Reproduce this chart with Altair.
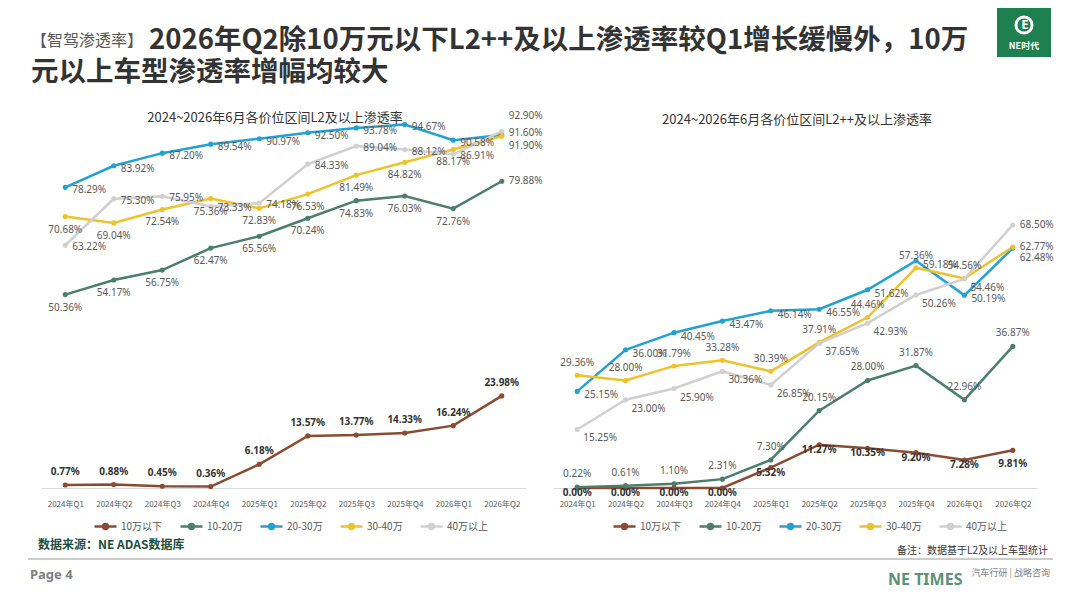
import altair as alt
import pandas as pd

CJK = "Noto Sans CJK SC"
NUM = "Noto Sans"
MUTED = "#595959"
INK = "#333333"

quarters = ["2024年Q1", "2024年Q2", "2024年Q3", "2024年Q4", "2025年Q1",
            "2025年Q2", "2025年Q3", "2025年Q4", "2026年Q1", "2026年Q2"]
series = ["10万以下", "10-20万", "20-30万", "30-40万", "40万以上"]
colors = ["#8C4B30", "#4B7E6B", "#22A2D4", "#EEC22A", "#D0D0D0"]

# L2及以上渗透率 (%)
l2_below10 = [0.77, 0.88, 0.45, 0.36, 6.18, 13.57, 13.77, 14.33, 16.24, 23.98]
l2_10_20 = [50.36, 54.17, 56.75, 62.47, 65.56, 70.24, 74.83, 76.03, 72.76, 79.88]
l2_20_30 = [78.29, 83.92, 87.20, 89.54, 90.97, 92.50, 93.78, 94.67, 90.58, 91.90]
l2_30_40 = [70.68, 69.04, 72.54, 75.36, 72.83, 76.53, 81.49, 84.82, 88.17, 91.60]
l2_above40 = [63.22, 75.30, 75.95, 73.33, 74.18, 84.33, 89.04, 88.12, 86.91, 92.90]

# L2++及以上渗透率 (%)
l2pp_below10 = [0.00, 0.00, 0.00, 0.00, 5.32, 11.27, 10.35, 9.20, 7.28, 9.81]
l2pp_10_20 = [0.22, 0.61, 1.10, 2.31, 7.30, 20.15, 28.00, 31.87, 22.96, 36.87]
l2pp_20_30 = [25.15, 36.00, 40.45, 43.47, 46.14, 46.55, 51.62, 59.18, 50.19, 62.48]
l2pp_30_40 = [29.36, 28.00, 31.79, 33.28, 30.39, 37.91, 44.46, 57.36, 54.56, 62.77]
l2pp_above40 = [15.25, 23.00, 25.90, 30.36, 26.85, 37.65, 42.93, 50.26, 54.46, 68.50]


def long_frame(cols):
    rows = []
    for name, vals in zip(series, cols):
        for q, v in zip(quarters, vals):
            rows.append({"quarter": q, "series": name, "value": v,
                         "label": f"{v:.2f}%"})
    return pd.DataFrame(rows)


LEGEND_SYMBOL = ("M-1,0L1,0M0.22,0A0.22,0.22 0 1 1 -0.22,0"
                 "A0.22,0.22 0 1 1 0.22,0")
LAST = quarters[-1]


def panel(df, x_range, legend_x, placements, end_placements):
    x = alt.X("quarter:O", sort=quarters, title=None,
              scale=alt.Scale(domain=quarters, range=x_range),
              axis=alt.Axis(orient="bottom", offset=-112, labelAngle=0, ticks=False,
                            domainColor="#D9D9D9", labelColor=MUTED, labelFontSize=8,
                            labelPadding=12, labelFont=CJK, grid=False))
    y = alt.Y("value:Q", scale=alt.Scale(domain=[0, 100], range=[480, 96]), axis=None)
    color = alt.Color("series:N", sort=series,
                      scale=alt.Scale(domain=series, range=colors),
                      legend=alt.Legend(title=None, orient="none", direction="horizontal",
                                        legendX=legend_x, legendY=506,
                                        symbolType=LEGEND_SYMBOL, symbolSize=484,
                                        symbolStrokeWidth=2.5, labelFont=CJK,
                                        labelFontSize=10, labelColor=MUTED,
                                        columnPadding=12, labelOffset=3))
    base = alt.Chart(df).encode(x=x, y=y)
    layers = [base.mark_line(strokeWidth=2.5).encode(color=color),
              base.mark_circle(size=26, opacity=1).encode(color=color)]
    for name, (dx, dy, align, bold), (edx, edy, ealign) in zip(series, placements,
                                                             end_placements):
        style = dict(baseline="middle", font=NUM, fontSize=10,
                     fontWeight="bold" if bold else "normal",
                     color=INK if bold else MUTED)
        own = base.transform_filter(alt.datum.series == name)
        layers.append(own.transform_filter(alt.datum.quarter != LAST)
                      .mark_text(dx=dx, dy=dy, align=align, **style)
                      .encode(text="label:N"))
        layers.append(own.transform_filter(alt.datum.quarter == LAST)
                      .mark_text(dx=edx, dy=edy, align=ealign, **style)
                      .encode(text="label:N"))
    return alt.layer(*layers)


def note(text, x, y, size, color=INK, weight="normal", align="left", font=CJK):
    return (alt.Chart(pd.DataFrame({"t": [text]}))
            .mark_text(x=x, y=y, fontSize=size, color=color, fontWeight=weight,
                       align=align, baseline="middle", font=font)
            .encode(text="t:N"))


left = panel(long_frame([l2_below10, l2_10_20, l2_20_30, l2_30_40, l2_above40]),
             [33, 518], 85,
             [(0, -13, "center", True), (0, 13, "center", False),
              (7, 3, "left", False), (0, 13, "center", False),
              (7, 2, "left", False)],
             [(0, -13, "center"), (7, 0, "left"), (7, 11, "left"),
              (7, -3, "left"), (7, -15, "left")])
right = panel(long_frame([l2pp_below10, l2pp_10_20, l2pp_20_30, l2pp_30_40, l2pp_above40]),
              [545, 1029], 604,
              [(0, 5, "center", True), (0, -13, "center", False),
               (7, 4, "left", False), (0, -12, "center", False),
               (6, 9, "left", False)],
              [(0, 14, "center"), (0, -13, "center"), (7, 10, "left"),
               (7, 0, "left"), (7, 0, "left")])

logo = (alt.Chart(pd.DataFrame({"a": [0]})).mark_rect(color="#1E7F4F")
        .encode(x=alt.value(989), x2=alt.value(1043), y=alt.value(0), y2=alt.value(49)))
logo_ring = (alt.Chart(pd.DataFrame({"a": [0]}))
             .mark_point(shape="circle", filled=False, color="white", size=260,
                         strokeWidth=3, opacity=1)
             .encode(x=alt.value(1016), y=alt.value(17)))
divider = (alt.Chart(pd.DataFrame({"a": [0]})).mark_rule(color="#9A9A9A", strokeWidth=1)
           .encode(x=alt.value(20), x2=alt.value(1045), y=alt.value(551)))

annotations = [
    logo,
    logo_ring,
    note("E", 1017, 17, 13, color="white", weight="bold", align="center", font=NUM),
    note("NE时代", 1016, 38, 9, color="white", weight="bold", align="center"),
    note("【智驾渗透率】", 23, 33, 16, color=MUTED),
    note("2026年Q2除10万元以下L2++及以上渗透率较Q1增长缓慢外，10万", 141, 33, 27.5,
         color=INK, weight="bold"),
    note("元以上车型渗透率增幅均较大", 23, 65, 27.5, color=INK, weight="bold"),
    note("2024~2026年6月各价位区间L2及以上渗透率", 267, 110, 13, color=INK,
         align="center"),
    note("2024~2026年6月各价位区间L2++及以上渗透率", 789, 112, 13, color=INK,
         align="center"),
    divider,
    note("数据来源：NE ADAS数据库", 30, 537, 12, color="#1F4E3D", weight="bold"),
    note("备注：数据基于L2及以上车型统计", 1040, 543, 10, color=INK, align="right"),
    note("Page 4", 22, 567, 13, color="#7F7F7F", weight="bold", font=NUM),
    note("NE TIMES", 880, 572, 16, color="#5B9278", weight="bold", font=NUM),
    note("汽车行研 | 战略咨询", 1042, 565, 9, color="#7F7F7F", align="right"),
]

chart = (alt.layer(left, right, *annotations)
         .resolve_scale(x="independent", color="independent")
         .properties(width=1064, height=592, padding=0,
                     autosize=alt.AutoSizeParams(type="none"), background="white")
         .configure_view(strokeWidth=0))

chart.save("out.html", embed_options={"renderer": "svg", "actions": False})
